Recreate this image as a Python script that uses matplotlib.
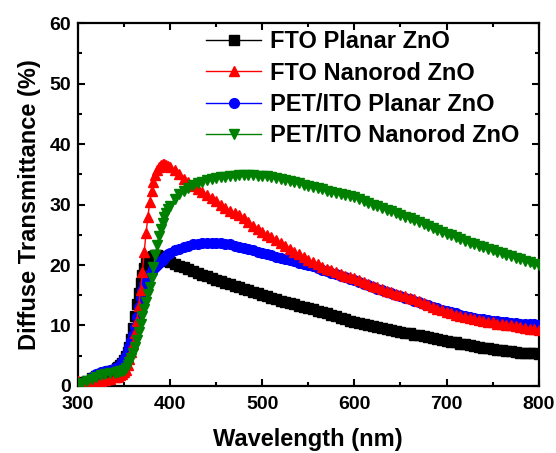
# encoding:utf-8
import matplotlib as mpl
mpl.use('Agg')
import matplotlib.pyplot as plt
from matplotlib.ticker import MultipleLocator

# wavelength grid (nm): 5 nm, then 2 nm over the absorption edge, then 5 nm
wavelength = list(range(300, 341, 5)) + list(range(342, 401, 2)) + list(range(405, 801, 5))

fto_planar = [
    0.5, 0.6, 0.9, 1.3, 1.7, 2.0, 2.2, 2.4, 2.6,
    2.9, 3.1, 3.4, 3.8, 4.3, 4.9, 5.6, 6.5, 7.8, 9.6,
    11.6, 13.6, 15.4, 17.0, 18.4, 19.5, 20.3, 20.9, 21.2, 21.4,
    21.5, 21.6, 21.6, 21.5, 21.4, 21.3, 21.1, 20.9, 20.7, 20.5,
    20.2, 19.9, 19.6, 19.3, 19.0, 18.7, 18.4, 18.1, 17.9, 17.6,
    17.4, 17.1, 16.9, 16.6, 16.4, 16.1, 15.9, 15.6, 15.3, 15.1,
    14.8, 14.6, 14.3, 14.1, 13.9, 13.7, 13.5, 13.3, 13.1, 12.9,
    12.7, 12.4, 12.2, 12.0, 11.7, 11.5, 11.3, 11.0, 10.8, 10.6,
    10.4, 10.2, 10.0, 9.9, 9.7, 9.6, 9.4, 9.3, 9.1, 9.0,
    8.8, 8.7, 8.5, 8.4, 8.2, 8.1, 7.9, 7.8, 7.6, 7.5,
    7.3, 7.2, 7.0, 6.9, 6.7, 6.6, 6.5, 6.3, 6.2, 6.1,
    6.0, 5.9, 5.8, 5.7, 5.6, 5.5, 5.5, 5.4, 5.4, 5.3,
]

fto_nanorod = [
    0.8, 0.5, 0.3, 0.4, 0.6, 0.8, 1.0, 1.2, 1.4,
    1.5, 1.6, 1.8, 2.0, 2.3, 2.7, 3.4, 4.4, 5.6, 7.0,
    8.8, 10.8, 13.2, 15.8, 18.8, 22.2, 25.3, 28.0, 30.4, 32.3,
    33.8, 34.9, 35.7, 36.2, 36.5, 36.7, 36.7, 36.6, 36.4, 36.2,
    35.7, 35.0, 34.3, 33.7, 33.1, 32.6, 32.1, 31.6, 31.1, 30.6,
    30.0, 29.5, 29.0, 28.6, 28.2, 27.7, 27.1, 26.5, 26.0, 25.5,
    25.0, 24.6, 24.1, 23.7, 23.2, 22.7, 22.2, 21.8, 21.3, 20.9,
    20.5, 20.1, 19.7, 19.4, 19.1, 18.8, 18.5, 18.2, 18.0, 17.8,
    17.5, 17.2, 16.9, 16.6, 16.3, 16.0, 15.7, 15.5, 15.2, 15.0,
    14.8, 14.6, 14.3, 14.0, 13.7, 13.4, 13.1, 12.8, 12.5, 12.2,
    12.0, 11.8, 11.6, 11.4, 11.2, 11.0, 10.9, 10.7, 10.6, 10.5,
    10.3, 10.2, 10.1, 10.0, 9.9, 9.8, 9.6, 9.5, 9.4, 9.3,
]

pet_planar = [
    0.3, 0.5, 0.9, 1.4, 1.9, 2.3, 2.5, 2.7, 2.9,
    3.0, 3.2, 3.5, 3.9, 4.4, 5.0, 5.7, 6.5, 7.4, 8.4,
    9.8, 11.4, 13.0, 14.6, 15.9, 16.9, 17.6, 18.1, 18.5, 18.9,
    19.3, 19.7, 20.0, 20.3, 20.6, 20.9, 21.2, 21.5, 21.8, 22.0,
    22.4, 22.7, 23.0, 23.2, 23.4, 23.5, 23.6, 23.6, 23.6, 23.6,
    23.6, 23.5, 23.4, 23.2, 23.0, 22.8, 22.6, 22.4, 22.2, 22.0,
    21.8, 21.6, 21.4, 21.2, 21.0, 20.8, 20.6, 20.4, 20.2, 20.0,
    19.8, 19.5, 19.2, 19.0, 18.7, 18.5, 18.2, 18.0, 17.7, 17.5,
    17.2, 16.9, 16.7, 16.4, 16.1, 15.9, 15.6, 15.4, 15.1, 14.9,
    14.6, 14.4, 14.1, 13.9, 13.6, 13.4, 13.1, 12.9, 12.6, 12.4,
    12.2, 12.0, 11.8, 11.6, 11.4, 11.3, 11.1, 11.0, 10.9, 10.8,
    10.7, 10.6, 10.5, 10.4, 10.4, 10.3, 10.3, 10.2, 10.2, 10.1,
]

pet_nanorod = [
    0.3, 0.5, 0.8, 1.1, 1.5, 1.8, 2.0, 2.1, 2.2,
    2.3, 2.3, 2.4, 2.5, 2.7, 3.0, 3.4, 4.0, 4.7, 5.5,
    6.5, 7.6, 8.9, 10.2, 11.5, 12.7, 13.9, 15.2, 16.4, 17.8,
    19.6, 21.6, 23.3, 24.8, 26.0, 27.0, 27.9, 28.6, 29.2, 29.8,
    30.9, 31.7, 32.3, 32.8, 33.2, 33.5, 33.8, 34.0, 34.2, 34.4,
    34.5, 34.6, 34.7, 34.8, 34.9, 34.9, 34.9, 34.9, 34.8, 34.8,
    34.7, 34.6, 34.4, 34.3, 34.1, 33.9, 33.7, 33.5, 33.3, 33.1,
    32.9, 32.7, 32.5, 32.3, 32.1, 31.9, 31.8, 31.6, 31.4, 31.2,
    30.9, 30.6, 30.3, 30.0, 29.7, 29.4, 29.1, 28.9, 28.6, 28.3,
    28.0, 27.7, 27.4, 27.1, 26.8, 26.4, 26.1, 25.8, 25.5, 25.2,
    24.9, 24.6, 24.3, 24.0, 23.7, 23.5, 23.2, 23.0, 22.7, 22.5,
    22.2, 22.0, 21.7, 21.5, 21.2, 21.0, 20.7, 20.5, 20.2, 20.0,
]

labels = ['FTO Planar ZnO', 'FTO Nanorod ZnO', 'PET/ITO Planar ZnO', 'PET/ITO Nanorod ZnO']

plt.rcParams['font.family'] = ['Liberation Sans', 'DejaVu Sans']
plt.rcParams['font.weight'] = 'bold'

fig = plt.figure(figsize=(5.56, 4.53), dpi=100)
ax = fig.add_axes([0.140, 0.148, 0.829, 0.801])

# blue drawn before red so red sits on top where they overlap
l1, = ax.plot(wavelength, fto_planar, color='black', marker='s', markersize=6.5, linewidth=1.0, zorder=2)
l3, = ax.plot(wavelength, pet_planar, color='#0000ff', marker='o', markersize=7, linewidth=1.0, zorder=3)
l2, = ax.plot(wavelength, fto_nanorod, color='#ff0000', marker='^', markersize=7.5, linewidth=1.0, zorder=4)
l4, = ax.plot(wavelength, pet_nanorod, color='#008000', marker='v', markersize=7.5, linewidth=1.0, zorder=5)

ax.set_xlim(300, 800)
ax.set_ylim(0, 60)
ax.xaxis.set_major_locator(MultipleLocator(100))
ax.xaxis.set_minor_locator(MultipleLocator(50))
ax.yaxis.set_major_locator(MultipleLocator(10))
ax.yaxis.set_minor_locator(MultipleLocator(5))
ax.tick_params(which='both', direction='in', top=True, right=True, width=1.5)
ax.tick_params(which='major', length=5, labelsize=14)
ax.tick_params(axis='x', which='major', pad=7)
ax.tick_params(axis='y', which='major', pad=5)
ax.tick_params(which='minor', length=3)
for sp in ax.spines.values():
    sp.set_linewidth(1.6)

ax.set_xlabel('Wavelength (nm)', fontsize=17, fontweight='bold', labelpad=11)
ax.set_ylabel('Diffuse Transmittance (%)', fontsize=17, fontweight='bold', labelpad=6)

ax.legend([l1, l2, l3, l4], labels, loc='upper left', bbox_to_anchor=(206 / 556, 1 - 30 / 453),
          bbox_transform=fig.transFigure, frameon=False, numpoints=1,
          handlelength=2.35, handletextpad=0.35, labelspacing=0.36, borderpad=0, borderaxespad=0,
          prop={'weight': 'bold', 'size': 17})

plt.savefig('out.png', dpi=100)
